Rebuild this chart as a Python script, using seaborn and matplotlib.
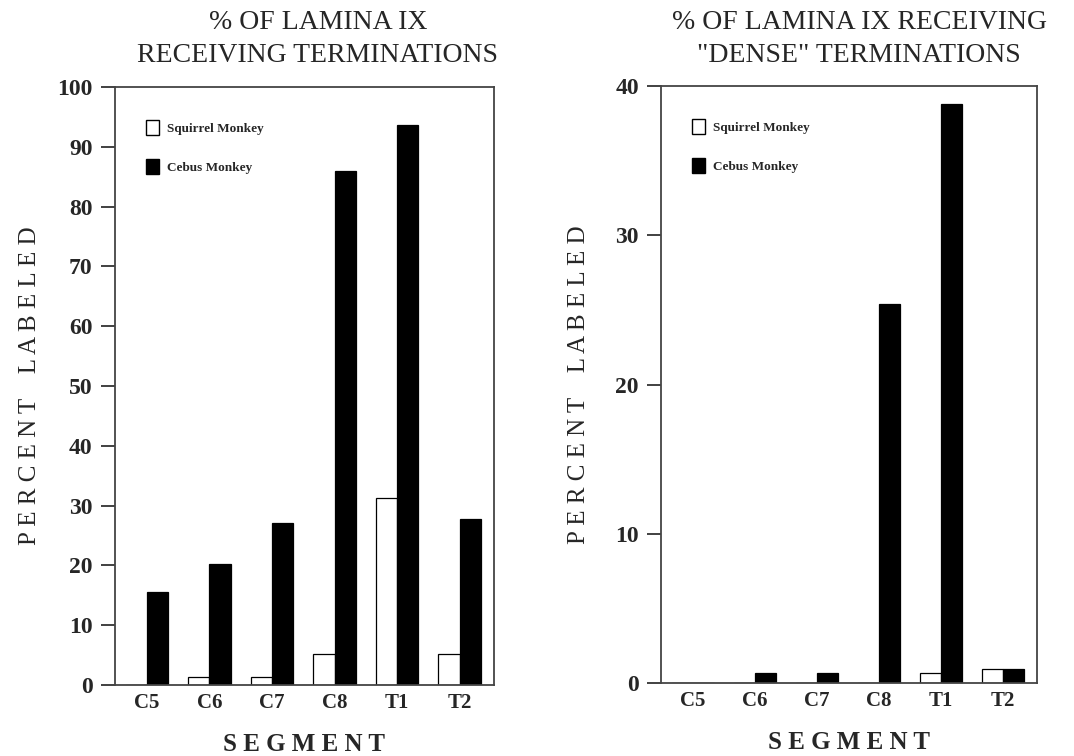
import matplotlib
matplotlib.use("Agg")
import matplotlib.pyplot as plt
import seaborn as sns
import pandas as pd

segments = ["C5", "C6", "C7", "C8", "T1", "T2"]
species = ["Squirrel Monkey", "Cebus Monkey"]

# % of lamina IX receiving terminations
all_squirrel = [0.0, 1.4, 1.4, 5.1, 31.3, 5.1]
all_cebus = [15.5, 20.3, 27.0, 86.0, 93.6, 27.7]

# % of lamina IX receiving "dense" terminations
dense_squirrel = [0.0, 0.0, 0.0, 0.0, 0.65, 0.95]
dense_cebus = [0.0, 0.65, 0.65, 25.4, 38.8, 0.95]

left_ticks = [0, 10, 20, 30, 40, 50, 60, 70, 80, 90, 100]
right_ticks = [0, 10, 20, 30, 40]

titles = ["% OF LAMINA IX\nRECEIVING TERMINATIONS",
          "% OF LAMINA IX RECEIVING\n\"DENSE\" TERMINATIONS"]


def make_df(sq, cb):
    return pd.DataFrame({
        "segment": segments * 2,
        "species": [species[0]] * len(segments) + [species[1]] * len(segments),
        "value": list(sq) + list(cb),
    })


sns.set_theme(style="white")
plt.rcParams["font.family"] = ["Liberation Serif", "DejaVu Serif"]

fig = plt.figure(figsize=(10.74, 7.56), dpi=100)
axL = fig.add_axes([0.107, 0.094, 0.353, 0.791])
axR = fig.add_axes([0.6155, 0.0966, 0.35, 0.7894])

palette = {"Squirrel Monkey": "white", "Cebus Monkey": "black"}

for ax, sq, cb, ticks, ymax, title, tx, ylpad in [
    (axL, all_squirrel, all_cebus, left_ticks, 100, titles[0], 0.296, 12),
    (axR, dense_squirrel, dense_cebus, right_ticks, 40, titles[1], 0.80, 18),
]:
    df = make_df(sq, cb)
    sns.barplot(data=df, x="segment", y="value", hue="species",
                hue_order=species, order=segments, palette=palette,
                edgecolor="black", linewidth=0.9, width=0.68, ax=ax,
                saturation=1)
    ax.set_ylim(0, ymax)
    ax.set_xlim(-0.51, 5.55)
    ax.set_yticks(ticks)
    ax.set_yticklabels([str(t) for t in ticks], fontsize=17, fontweight="bold")
    ax.set_xticks(range(len(segments)))
    ax.set_xticklabels(segments, fontsize=15, fontweight="bold")
    ax.tick_params(axis="y", direction="out", length=10, width=1.3,
                   color="#333333", pad=6, left=True)
    ax.tick_params(axis="x", length=0, pad=6)
    for s in ax.spines.values():
        s.set_visible(True)
        s.set_color("#444444")
        s.set_linewidth(1.3)
    ax.set_xlabel("S E G M E N T", fontsize=18, fontweight="bold",
                  labelpad=14)
    ax.set_ylabel("P E R C E N T    L A B E L E D", fontsize=18,
                  fontweight="normal", labelpad=ylpad)
    leg = ax.legend(loc="upper left", bbox_to_anchor=(0.05, 0.965),
                    frameon=False, handlelength=1.0,
                    handleheight=1.4, labelspacing=1.8, handletextpad=0.6,
                    prop={"weight": "bold", "size": 9.5})
    for h in leg.legend_handles:
        h.set_edgecolor("black")
        h.set_linewidth(1.0)
    fig.text(tx, 0.987, title, ha="center", va="top", fontsize=20,
             linespacing=1.45)

fig.savefig("out.png", dpi=100, facecolor="white")
